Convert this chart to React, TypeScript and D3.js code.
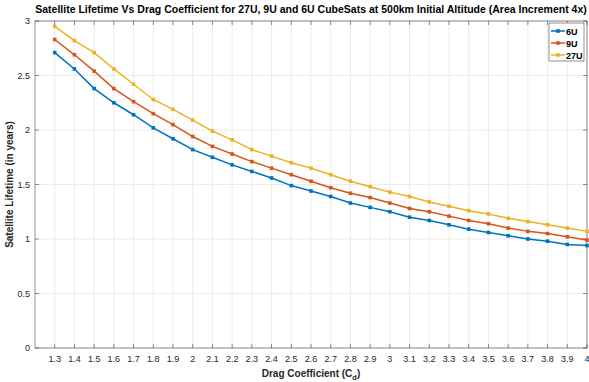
import React from 'react'
import * as d3 from 'd3'

const dragCoeff = [1.3, 1.4, 1.5, 1.6, 1.7, 1.8, 1.9, 2.0, 2.1, 2.2, 2.3, 2.4, 2.5, 2.6, 2.7, 2.8, 2.9, 3.0, 3.1, 3.2, 3.3, 3.4, 3.5, 3.6, 3.7, 3.8, 3.9, 4.0]

const life6U = [2.71, 2.56, 2.38, 2.25, 2.14, 2.02, 1.92, 1.82, 1.75, 1.68, 1.62, 1.56, 1.49, 1.44, 1.39, 1.33, 1.29, 1.25, 1.20, 1.17, 1.13, 1.09, 1.06, 1.03, 1.00, 0.98, 0.95, 0.94]
const life9U = [2.83, 2.69, 2.54, 2.38, 2.26, 2.15, 2.05, 1.94, 1.85, 1.78, 1.71, 1.65, 1.59, 1.53, 1.47, 1.42, 1.38, 1.33, 1.28, 1.25, 1.21, 1.17, 1.14, 1.10, 1.07, 1.05, 1.02, 0.99]
const life27U = [2.95, 2.82, 2.71, 2.56, 2.42, 2.28, 2.19, 2.09, 1.99, 1.91, 1.82, 1.76, 1.70, 1.65, 1.59, 1.53, 1.48, 1.43, 1.39, 1.34, 1.30, 1.26, 1.23, 1.19, 1.16, 1.13, 1.10, 1.07]

const yTicks = [0, 0.5, 1, 1.5, 2, 2.5, 3]
const yTickLabels = ['0', '0.5', '1', '1.5', '2', '2.5', '3']

const series = [
  {name: '6U', values: life6U, color: '#0072BD'},
  {name: '9U', values: life9U, color: '#D95319'},
  {name: '27U', values: life27U, color: '#EDB120'},
]

export default function App() {
  const width = 589, height = 382
  const left = 35, right = 587, top = 21, bottom = 348

  const x = d3.scaleLinear().domain([1.2, 4]).range([left, right])
  const y = d3.scaleLinear().domain([0, 3]).range([bottom, top])

  const line = d3.line<number>()
    .x((d, i) => x(dragCoeff[i]))
    .y(d => y(d))

  const font = 'Liberation Sans, Arial, Helvetica, sans-serif'
  const axisColor = '#262626'
  const tickLen = 4

  return (
    <svg width={width} height={height} style={{position: 'absolute', left: 0, top: 0, background: '#fff'}} fontFamily={font}>
      <rect x={0} y={0} width={width} height={height} fill='#fff' />
      {/* grid */}
      {dragCoeff.map((c, i) => (
        <line key={'gx' + i} x1={x(c)} x2={x(c)} y1={top} y2={bottom} stroke='#e6e6e6' strokeWidth={0.8} />
      ))}
      {yTicks.map((v, i) => (
        <line key={'gy' + i} x1={left} x2={right} y1={y(v)} y2={y(v)} stroke='#e6e6e6' strokeWidth={0.8} />
      ))}

      {/* box */}
      <rect x={left} y={top} width={right - left} height={bottom - top} fill='none' stroke={axisColor} strokeWidth={0.5} />

      {/* ticks */}
      {dragCoeff.map((c, i) => (
        <g key={'tx' + i}>
          <line x1={x(c)} x2={x(c)} y1={bottom} y2={bottom - tickLen} stroke={axisColor} strokeWidth={0.5} />
          <line x1={x(c)} x2={x(c)} y1={top} y2={top + tickLen} stroke={axisColor} strokeWidth={0.5} />
          <text x={x(c)} y={bottom + 14} fontSize={9} textAnchor='middle' fill={axisColor}>{String(c % 1 === 0 ? c.toFixed(0) : c.toFixed(1))}</text>
        </g>
      ))}
      {yTicks.map((v, i) => (
        <g key={'ty' + i}>
          <line x1={left} x2={left + tickLen} y1={y(v)} y2={y(v)} stroke={axisColor} strokeWidth={0.5} />
          <line x1={right} x2={right - tickLen} y1={y(v)} y2={y(v)} stroke={axisColor} strokeWidth={0.5} />
          <text x={left - 5} y={y(v) + 3} fontSize={9} textAnchor='end' fill={axisColor}>{yTickLabels[i]}</text>
        </g>
      ))}

      {/* series */}
      {series.map(s => (
        <g key={s.name}>
          <path d={line(s.values) || ''} fill='none' stroke={s.color} strokeWidth={1.5} />
          {s.values.map((v, i) => (
            <rect key={i} x={x(dragCoeff[i]) - 1.8} y={y(v) - 1.8} width={3.6} height={3.6} fill={s.color} />
          ))}
        </g>
      ))}

      {/* legend */}
      <rect x={549} y={23} width={35} height={38} fill='#fff' stroke='#262626' strokeWidth={0.5} />
      {series.map((s, i) => (
        <g key={'lg' + s.name}>
          <line x1={551} x2={565} y1={31 + i * 12} y2={31 + i * 12} stroke={s.color} strokeWidth={1.5} />
          <rect x={556.2} y={29.2 + i * 12} width={3.6} height={3.6} fill={s.color} />
          <text x={566} y={34.5 + i * 12} fontSize={9} fontWeight='bold' fill='#000'>{s.name}</text>
        </g>
      ))}

      {/* title and labels */}
      <text x={(left + right) / 2} y={13} fontSize={10.5} fontWeight='bold' textAnchor='middle' fill='#000'>
        Satellite Lifetime Vs Drag Coefficient for 27U, 9U and 6U CubeSats at 500km Initial Altitude (Area Increment 4x)
      </text>
      <text x={(left + right) / 2} y={377} fontSize={10} fontWeight='bold' textAnchor='middle' fill='#262626'>
        Drag Coefficient (C<tspan dy={3} fontSize={7.5}>d</tspan><tspan dy={-3}>)</tspan>
      </text>
      <text transform={`translate(13, ${(top + bottom) / 2}) rotate(-90)`} fontSize={10} fontWeight='bold' textAnchor='middle' fill='#262626'>
        Satellite Lifetime (in years)
      </text>
    </svg>
  )
}
